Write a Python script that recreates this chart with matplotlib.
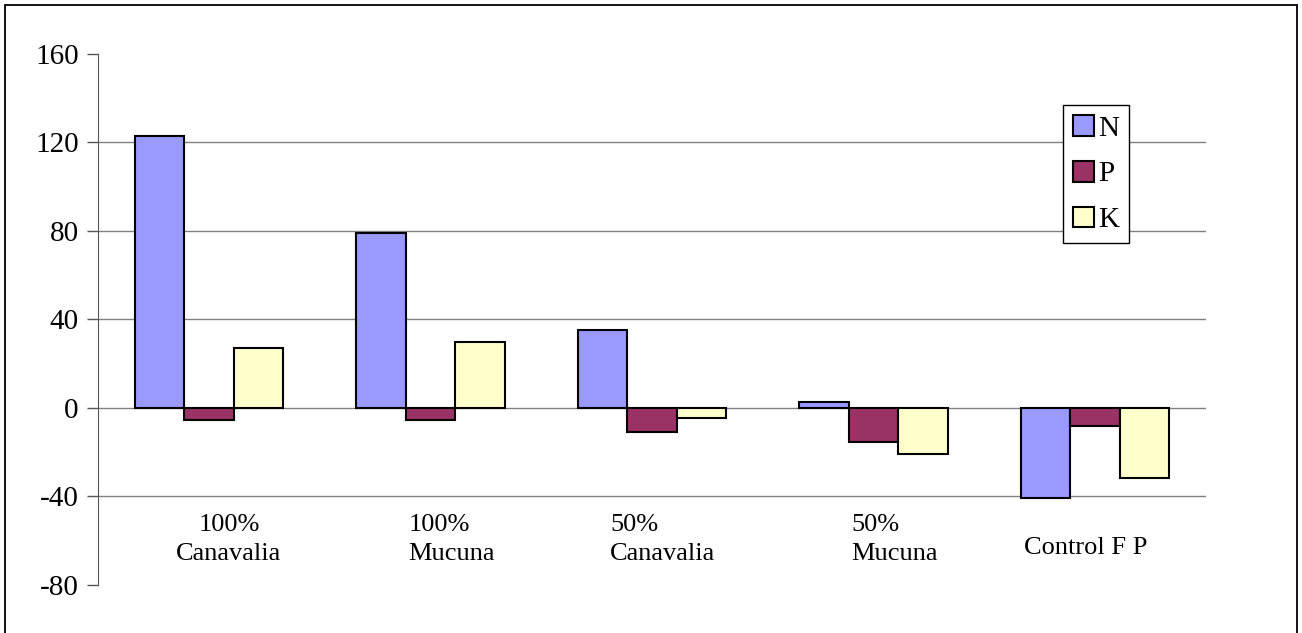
import matplotlib.pyplot as plt
import numpy as np
from matplotlib.patches import Rectangle

plt.rcParams['font.family'] = ['Liberation Serif', 'DejaVu Serif']
plt.rcParams['axes.unicode_minus'] = False

categories = ['100%\nCanavalia', '100%\nMucuna', '50%\nCanavalia', '50%\nMucuna', 'Control F P']
n_vals = [123, 79, 35, 2.7, -40.6]
p_vals = [-5.4, -5.4, -10.9, -15.4, -8.2]
k_vals = [27, 29.7, -4.7, -21, -31.9]
series = ['N', 'P', 'K']
colors = ['#9999FF', '#993366', '#FFFFCC']

W, H = 1302, 633
fig = plt.figure(figsize=(W / 100, H / 100), dpi=100)

# outer chart border (bottom edge falls outside the image)
fig.patches.append(Rectangle((5 / W, -0.05), 1292 / W, 1.05 - 5 / H, transform=fig.transFigure,
                             fill=False, edgecolor='black', linewidth=1.3))

ax = fig.add_axes([98.3 / W, 1 - 584.7 / H, (1205.7 - 98.3) / W, (584.7 - 54) / H])

x = np.arange(len(categories))
width = 0.224
for i, (vals, name, c) in enumerate(zip([n_vals, p_vals, k_vals], series, colors)):
    ax.bar(x + (i - 1) * width, vals, width, color=c, edgecolor='black', linewidth=1.5,
           label=name, zorder=3)

ax.set_xlim(-0.5, len(categories) - 0.5)
ax.set_ylim(-80, 160)
ax.set_yticks(np.arange(-80, 161, 40))
ax.tick_params(axis='y', direction='out', length=8, width=1, color='#555555',
               labelsize=21, pad=6)
ax.set_xticks([])
for s in ['top', 'right', 'bottom']:
    ax.spines[s].set_visible(False)
ax.spines['left'].set_color('#555555')

for gy in [-40, 0, 40, 80, 120]:
    ax.axhline(gy, color='#808080', linewidth=1, zorder=1)

# category labels sit below the -40 line
label_dx = [0.09, -0.1, -0.19, -0.1, -0.04]
label_dy = [0, 0, 0, 0, -10.5]
label_align = ['center', 'left', 'left', 'left', 'center']
for xi, lab, dx, dy, al in zip(x, categories, label_dx, label_dy, label_align):
    ax.text(xi + dx, -48 + dy, lab, ha='center' if al == 'center' else 'left', va='top',
            fontsize=19, multialignment=al, linespacing=1.4)

leg = fig.legend(loc='upper left', bbox_to_anchor=(1062.7 / W, 1 - 104.7 / H), fontsize=21,
                 frameon=True, fancybox=False, edgecolor='black', framealpha=1,
                 handlelength=0.72, handleheight=0.72, handletextpad=0.15,
                 labelspacing=0.66, borderpad=0.35, borderaxespad=0)
leg.get_frame().set_linewidth(1)

fig.savefig('out.png', dpi=100)
